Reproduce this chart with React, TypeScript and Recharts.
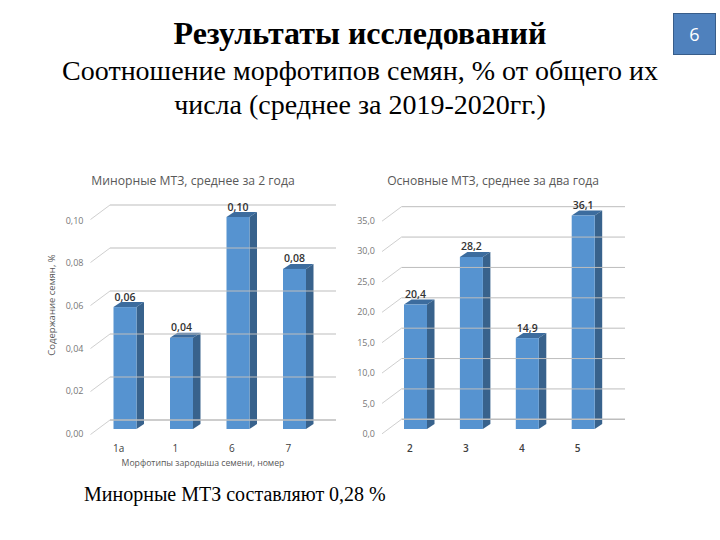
import React from "react";
import { BarChart, Bar, XAxis, YAxis, LabelList } from "recharts";

// Data
const minorCategories = ["1а", "1", "6", "7"];
const minorValues = [0.0575, 0.043, 0.1, 0.0755];
const minorValueLabels = ["0,06", "0,04", "0,10", "0,08"];
const minorTicks = [0, 0.02, 0.04, 0.06, 0.08, 0.1];
const minorTickLabels = ["0,00", "0,02", "0,04", "0,06", "0,08", "0,10"];

const mainCategories = ["2", "3", "4", "5"];
const mainValues = [20.4, 28.2, 14.9, 35];
const mainValueLabels = ["20,4", "28,2", "14,9", "36,1"];
const mainTicks = [0, 5, 10, 15, 20, 25, 30, 35];
const mainTickLabels = ["0,0", "5,0", "10,0", "15,0", "20,0", "25,0", "30,0", "35,0"];

const SANS = "'Open Sans', sans-serif";
const SERIF = "'Liberation Serif', serif";
const PLOT_BOTTOM = 429;

const Bar3D = (props: any) => {
  const { x, y, width: w, height: h } = props;
  const dx = 7.5;
  const dy = 5;
  return (
    <g>
      <polygon
        points={`${x},${y} ${x + dx},${y - dy} ${x + w + dx},${y - dy} ${x + w},${y}`}
        fill="#3c6c9e"
      />
      <polygon
        points={`${x + w},${y} ${x + w + dx},${y - dy} ${x + w + dx},${y + h - dy} ${x + w},${y + h}`}
        fill="#38628c"
      />
      <rect x={x} y={y} width={w} height={h} fill="#5693d0" />
    </g>
  );
};

type PanelProps = {
  left: number;
  categories: string[];
  values: number[];
  valueLabels: string[];
  ticks: number[];
  tickLabels: string[];
  plotLeft: number;
  plotRight: number;
  plotTop: number;
  gridBottom: number;
  gridTop: number;
  gridRight: number;
  labelTop: number;
  catWeight: number;
};

function Panel(p: PanelProps) {
  const data = p.categories.map((category, i) => ({
    category,
    value: p.values[i],
    label: p.valueLabels[i],
  }));
  const span = PLOT_BOTTOM - p.plotTop;
  const YTick = (t: any) => {
    const f = (PLOT_BOTTOM - t.y) / span;
    const backY = p.gridBottom - f * (p.gridBottom - p.gridTop);
    const labelY = 434 - f * (434 - p.labelTop);
    const backX = p.plotLeft + 13.5;
    const frontX = p.plotLeft - 6;
    const idx = p.ticks.indexOf(t.payload.value);
    return (
      <g>
        <line x1={backX} x2={p.gridRight} y1={backY} y2={backY} stroke="#bdbdbd" strokeWidth={idx === 0 ? 1.6 : 1} />
        <line x1={frontX} x2={backX} y1={backY + 14.5} y2={backY} stroke="#cfcfcf" strokeWidth={1} />
        <text x={frontX - 7} y={labelY} dy={3} textAnchor="end" fontSize={9} fontFamily={SANS} fill="#777777">
          {p.tickLabels[idx]}
        </text>
      </g>
    );
  };
  const XTick = (t: any) => (
    <text
      x={t.x - 6}
      y={448}
      dy={3.5}
      textAnchor="middle"
      fontSize={10}
      fontWeight={p.catWeight}
      fontFamily={SANS}
      fill="#404040"
    >
      {t.payload.value}
    </text>
  );
  const yMax = p.ticks[p.ticks.length - 1];
  return (
    <div style={{ position: "absolute", left: p.left, top: 0 }}>
      <BarChart
        width={340}
        height={540}
        data={data}
        margin={{ left: p.plotLeft - 1, right: 340 - p.plotRight, top: p.plotTop, bottom: 540 - PLOT_BOTTOM - 1 }}
      >
        <YAxis
          type="number"
          width={1}
          domain={[0, yMax]}
          ticks={p.ticks}
          interval={0}
          axisLine={false}
          tickLine={false}
          tick={YTick}
        />
        <XAxis dataKey="category" height={1} axisLine={false} tickLine={false} tick={XTick} interval={0} />
        <Bar dataKey="value" barSize={23} shape={Bar3D} isAnimationActive={false}>
          <LabelList
            dataKey="label"
            position="top"
            offset={6.5}
            fontSize={10.5}
            fontWeight={600}
            fontFamily={SANS}
            fill="#333333"
          />
        </Bar>
      </BarChart>
    </div>
  );
}

const abs = (style: React.CSSProperties): React.CSSProperties => ({
  position: "absolute",
  whiteSpace: "nowrap",
  lineHeight: 1,
  ...style,
});

const centered = (cx: number, cy: number): React.CSSProperties => ({
  left: cx,
  top: cy,
  transform: "translate(-50%, -50%)",
});

export default function App() {
  return (
    <div style={{ position: "absolute", left: 0, top: 0, width: 720, height: 540, background: "#ffffff", overflow: "hidden" }}>
      <Panel
        left={0}
        categories={minorCategories}
        values={minorValues}
        valueLabels={minorValueLabels}
        ticks={minorTicks}
        tickLabels={minorTickLabels}
        plotLeft={96.5}
        plotRight={322.5}
        plotTop={217}
        gridBottom={420}
        gridTop={205}
        gridRight={336}
        labelTop={220.7}
        catWeight={400}
      />
      <Panel
        left={340}
        categories={mainCategories}
        values={mainValues}
        valueLabels={mainValueLabels}
        ticks={mainTicks}
        tickLabels={mainTickLabels}
        plotLeft={48}
        plotRight={271.6}
        plotTop={215.5}
        gridBottom={419.3}
        gridTop={206.7}
        gridRight={285}
        labelTop={220.7}
        catWeight={600}
      />

      <div style={abs({ ...centered(360, 33), fontFamily: SERIF, fontWeight: 700, fontSize: 32, color: "#000" })}>
        Результаты исследований
      </div>
      <div style={abs({ ...centered(360, 71), fontFamily: SERIF, fontSize: 28, color: "#000" })}>
        Соотношение морфотипов семян, % от общего их
      </div>
      <div style={abs({ ...centered(360, 105), fontFamily: SERIF, fontSize: 28, color: "#000" })}>
        числа (среднее за 2019-2020гг.)
      </div>
      <div style={abs({ ...centered(193, 181), fontFamily: SANS, fontSize: 12.2, color: "#595959" })}>
        Минорные МТЗ, среднее за 2 года
      </div>
      <div style={abs({ ...centered(493, 181), fontFamily: SANS, fontSize: 12.1, color: "#595959" })}>
        Основные МТЗ, среднее за два года
      </div>
      <div style={abs({ ...centered(52, 305), fontFamily: SANS, fontSize: 9.5, color: "#595959", transform: "translate(-50%, -50%) rotate(-90deg)" })}>
        Содержание семян, %
      </div>
      <div style={abs({ ...centered(203, 463), fontFamily: SANS, fontSize: 8.7, color: "#595959" })}>
        Морфотипы зародыша семени, номер
      </div>
      <div style={abs({ left: 84, top: 484, fontFamily: SERIF, fontSize: 20, color: "#000" })}>
        Минорные МТЗ составляют 0,28 %
      </div>
      <div
        style={{
          position: "absolute",
          left: 673,
          top: 13,
          width: 41,
          height: 40,
          boxSizing: "content-box",
          background: "#4f81bd",
          border: "1.5px solid #385d8a",
          color: "#ffffff",
          fontFamily: SANS,
          fontSize: 18,
          display: "flex",
          alignItems: "center",
          justifyContent: "center",
        }}
      >
        6
      </div>
    </div>
  );
}
